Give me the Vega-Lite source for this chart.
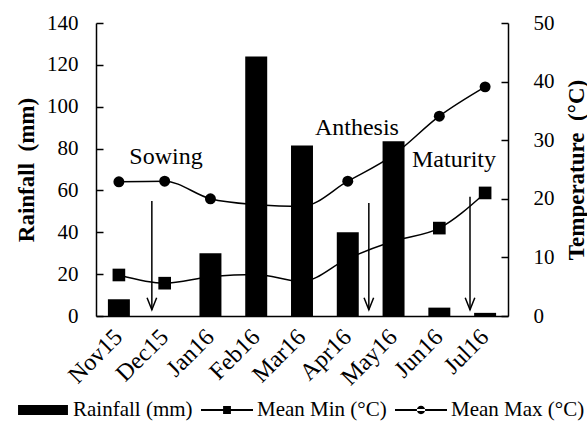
{
  "$schema": "https://vega.github.io/schema/vega-lite/v6.json",
  "width": 412,
  "height": 293,
  "autosize": "none",
  "padding": {"left": 96, "top": 23, "right": 79, "bottom": 105},
  "config": {
    "font": "Liberation Serif",
    "view": {"stroke": null},
    "text": {"font": "Liberation Serif"},
    "axis": {
      "grid": false,
      "domainColor": "black",
      "domainWidth": 1.5,
      "tickColor": "black",
      "tickWidth": 1.5,
      "labelColor": "black",
      "titleColor": "black",
      "labelFont": "Liberation Serif",
      "titleFont": "Liberation Serif"
    },
    "legend": {"labelFont": "Liberation Serif", "labelColor": "black"}
  },
  "datasets": {
    "monthly": [
      {"month": "Nov15", "rainfall": 8, "tmin": 7.0, "tmax": 22.9},
      {"month": "Dec15", "rainfall": 0, "tmin": 5.6, "tmax": 23.0},
      {"month": "Jan16", "rainfall": 30, "tmin": 6.7, "tmax": 20.0},
      {"month": "Feb16", "rainfall": 124, "tmin": 7.1, "tmax": 19.0},
      {"month": "Mar16", "rainfall": 81.5, "tmin": 5.9, "tmax": 18.7},
      {"month": "Apr16", "rainfall": 40, "tmin": 9.8, "tmax": 23.0},
      {"month": "May16", "rainfall": 83.5, "tmin": 12.8, "tmax": 27.5},
      {"month": "Jun16", "rainfall": 4, "tmin": 15.0, "tmax": 34.1},
      {"month": "Jul16", "rainfall": 1.5, "tmin": 21.0, "tmax": 39.1}
    ],
    "notes": [
      {"stage": "Sowing", "textPos": 1.53, "textLevel": 76, "arrowPos": 1.22, "arrowTop": 55, "arrowTip": 3},
      {"stage": "Anthesis", "textPos": 5.7, "textLevel": 89.8, "arrowPos": 5.96, "arrowTop": 54, "arrowTip": 3},
      {"stage": "Maturity", "textPos": 7.82, "textLevel": 74.5, "arrowPos": 8.17, "arrowTop": 57, "arrowTip": 3}
    ],
    "legendItems": [
      {"item": "Rainfall (mm)"},
      {"item": "Mean Min (°C)"},
      {"item": "Mean Max (°C)"}
    ]
  },
  "layer": [
    {
      "data": {"name": "monthly"},
      "layer": [
        {
          "mark": {"type": "line", "color": "black", "strokeWidth": 1.5, "interpolate": "monotone"},
          "encoding": {
            "x": {"field": "month", "type": "nominal"},
            "y": {
              "field": "tmin", "type": "quantitative",
              "scale": {"domain": [0, 50], "nice": false, "zero": true},
              "axis": {
                "orient": "right", "values": [0, 10, 20, 30, 40, 50],
                "tickSize": -7, "labelPadding": 32, "labelFontSize": 21,
                "title": "Temperature\u00a0 (°C)", "titleFontSize": 23, "titleFontWeight": "bold",
                "titleAngle": -90, "titleBaseline": "top", "titlePadding": 11
              }
            }
          }
        },
        {
          "mark": {"type": "line", "color": "black", "strokeWidth": 1.5, "interpolate": "monotone"},
          "encoding": {
            "x": {"field": "month", "type": "nominal"},
            "y": {"field": "tmax", "type": "quantitative", "scale": {"domain": [0, 50], "nice": false}, "axis": null}
          }
        },
        {
          "mark": {"type": "point", "shape": "square", "filled": true, "color": "black", "opacity": 1, "size": 160},
          "encoding": {
            "x": {"field": "month", "type": "nominal"},
            "y": {"field": "tmin", "type": "quantitative", "scale": {"domain": [0, 50], "nice": false}, "axis": null}
          }
        },
        {
          "mark": {"type": "point", "shape": "circle", "filled": true, "color": "black", "opacity": 1, "size": 120},
          "encoding": {
            "x": {"field": "month", "type": "nominal"},
            "y": {"field": "tmax", "type": "quantitative", "scale": {"domain": [0, 50], "nice": false}, "axis": null}
          }
        },
        {
          "mark": {"type": "bar", "color": "black"},
          "encoding": {
            "x": {
              "field": "month", "type": "nominal", "sort": null,
              "scale": {
                "domain": ["Nov15", "Dec15", "Jan16", "Feb16", "Mar16", "Apr16", "May16", "Jun16", "Jul16"],
                "paddingInner": 0.52, "paddingOuter": 0.26
              },
              "axis": {
                "title": null, "ticks": false, "labelAngle": -45, "labelAlign": "right",
                "labelBaseline": "middle", "labelFontSize": 24, "labelPadding": 17
              }
            },
            "y": {
              "field": "rainfall", "type": "quantitative",
              "scale": {"domain": [0, 140], "nice": false},
              "axis": {
                "orient": "left", "values": [0, 20, 40, 60, 80, 100, 120, 140],
                "tickSize": -7, "labelPadding": 25, "labelFontSize": 21,
                "title": "Rainfall\u00a0 (mm)", "titleFontSize": 23, "titleFontWeight": "bold", "titlePadding": 8
              }
            }
          }
        },
        {
          "data": {"name": "legendItems"},
          "mark": {"type": "point", "filled": true, "color": "black", "opacity": 0},
          "encoding": {
            "shape": {
              "field": "item", "type": "nominal",
              "scale": {
                "domain": ["Rainfall (mm)", "Mean Min (°C)", "Mean Max (°C)"],
                "range": [
                  "M-0.96,-0.19H0.96V0.19H-0.96Z",
                  "M-1,-0.04H-0.15V-0.15H0.15V-0.04H1V0.04H0.15V0.15H-0.15V0.04H-1Z",
                  "M-1,-0.04H1V0.04H-1Z M-0.16,0A0.16,0.16 0 1,0 0.16,0A0.16,0.16 0 1,0 -0.16,0Z"
                ]
              },
              "legend": {
                "orient": "none", "legendX": -79, "legendY": 361, "direction": "horizontal",
                "title": null, "symbolSize": 2704, "symbolOpacity": 1, "symbolStrokeWidth": 0,
                "symbolFillColor": "black", "labelFontSize": 21, "labelOffset": 4, "columnPadding": 8
              }
            }
          }
        }
      ],
      "resolve": {"scale": {"y": "independent"}}
    },
    {
      "data": {"name": "notes"},
      "layer": [
        {
          "mark": {"type": "text", "fontSize": 24, "color": "black", "baseline": "middle", "align": "center"},
          "encoding": {
            "x": {"field": "textPos", "type": "quantitative", "scale": {"domain": [0, 9], "nice": false, "zero": false}, "axis": null},
            "y": {"field": "textLevel", "type": "quantitative", "scale": {"domain": [0, 140], "nice": false}, "axis": null},
            "text": {"field": "stage"}
          }
        },
        {
          "mark": {"type": "rule", "color": "black", "strokeWidth": 1.5},
          "encoding": {
            "x": {"field": "arrowPos", "type": "quantitative", "scale": {"domain": [0, 9], "nice": false, "zero": false}, "axis": null},
            "y": {"field": "arrowTop", "type": "quantitative", "scale": {"domain": [0, 140], "nice": false}, "axis": null},
            "y2": {"field": "arrowTip"}
          }
        },
        {
          "mark": {"type": "point", "shape": "M-0.4,-1L0,0L0.4,-1", "filled": false, "color": "black", "strokeWidth": 1.5, "size": 576, "opacity": 1},
          "encoding": {
            "x": {"field": "arrowPos", "type": "quantitative", "scale": {"domain": [0, 9], "nice": false, "zero": false}, "axis": null},
            "y": {"field": "arrowTip", "type": "quantitative", "scale": {"domain": [0, 140], "nice": false}, "axis": null}
          }
        }
      ]
    }
  ],
  "resolve": {"scale": {"x": "independent", "y": "independent"}}
}
